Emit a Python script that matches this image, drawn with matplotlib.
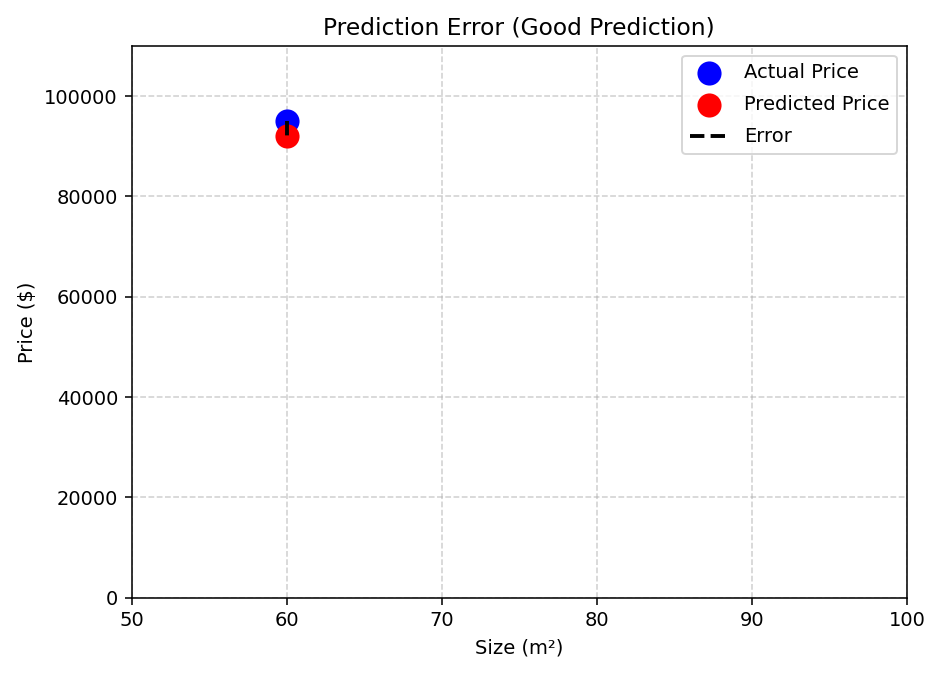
import matplotlib
matplotlib.use('Agg')
import matplotlib.pyplot as plt

size = [60]
actual_price = [95000]
predicted_price = [92000]

fig, ax = plt.subplots(figsize=(940 / 140, 674 / 140), dpi=140)

ax.scatter(size, actual_price, color='blue', s=130, label='Actual Price', zorder=3)
ax.scatter(size, predicted_price, color='red', s=130, label='Predicted Price', zorder=3)
for i in range(len(size)):
    ax.plot([size[i], size[i]], [actual_price[i], predicted_price[i]], 'k--',
            linewidth=2, label='Error' if i == 0 else None, zorder=4)

ax.set_xlim(50, 100)
ax.set_ylim(0, 110000)
ax.set_xlabel('Size (m²)')
ax.set_ylabel('Price ($)')
ax.set_title('Prediction Error (Good Prediction)')
ax.grid(True, linestyle='--', alpha=0.6)
ax.legend(loc='upper right', labelspacing=0.67)

plt.subplots_adjust(left=0.14, right=0.965, top=0.932, bottom=0.113)
plt.savefig('out.png')
